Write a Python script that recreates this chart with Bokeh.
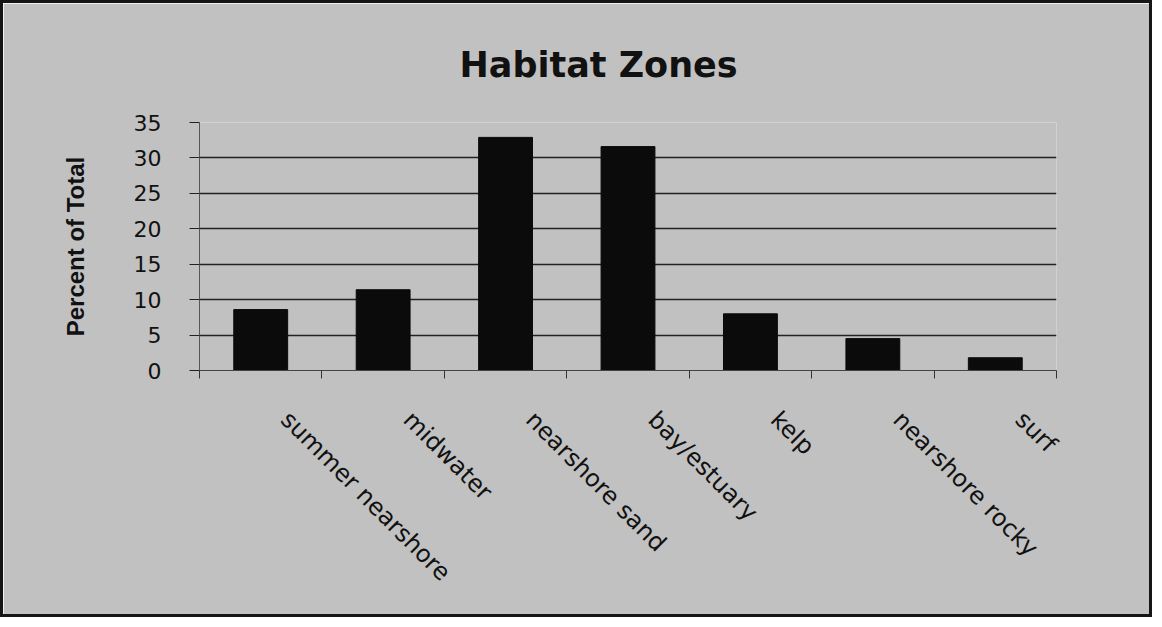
import math
from bokeh.plotting import figure
from bokeh.models import Range1d, FixedTicker, Title
from bokeh.embed import file_html
from bokeh.resources import INLINE

# ---- data ----
categories = ["summer nearshore", "midwater", "nearshore sand", "bay/estuary",
              "kelp", "nearshore rocky", "surf"]
percent = [8.6, 11.4, 32.9, 31.6, 8.0, 4.5, 1.8]
y_ticks = [0, 5, 10, 15, 20, 25, 30, 35]
grid_ticks = [5, 10, 15, 20, 25, 30]
title_text = "Habitat Zones"
y_label = "Percent of Total"

BG = "#c1c1c1"
FONT = "DejaVu Sans"

L, R, T, B = 196, 93, 119, 244
FW, FH = 857, 248

n = len(categories)
xs = [i + 0.5 for i in range(n)]
label_pos = [x + 0.2 for x in xs]

p = figure(width=L + FW + R, height=T + FH + B, output_backend="svg", toolbar_location=None,
           x_range=Range1d(0, n), y_range=Range1d(0, 35),
           min_border_left=L, min_border_right=R, min_border_top=T,
           min_border_bottom=B, frame_width=FW, frame_height=FH)

p.background_fill_color = BG
p.border_fill_color = BG
p.outline_line_color = None
p.styles = {"border": "3px solid #151515"}

p.vbar(x=xs, top=percent, width=0.44, fill_color="#0b0b0b", line_color="#0b0b0b")

# title
t = Title(text=title_text, align="left", offset=260, standoff=76,
          text_font=FONT, text_font_size="35px", text_font_style="bold",
          text_color="#111")
p.title = t

# x axis
xa = p.xaxis[0]
xa.ticker = FixedTicker(ticks=label_pos, minor_ticks=list(range(n + 1)))
xa.major_label_overrides = {x: c for x, c in zip(label_pos, categories)}
xa.major_label_orientation = -math.pi / 4
xa.major_tick_out = 0
xa.major_tick_in = 0
xa.minor_tick_out = 8
xa.minor_tick_in = 0
xa.minor_tick_line_color = "#333"
xa.axis_line_color = "#444"
xa.axis_line_width = 1.2
xa.major_label_text_font = FONT
xa.major_label_text_font_size = "24px"
xa.major_label_text_color = "#111"
xa.major_label_standoff = 37

# y axis
ya = p.yaxis[0]
ya.ticker = FixedTicker(ticks=y_ticks)
ya.minor_tick_line_color = None
ya.major_tick_out = 10
ya.major_tick_in = 0
ya.major_tick_line_color = "#222"
ya.axis_line_color = "#555"
ya.axis_line_width = 1
ya.major_label_text_font = FONT
ya.major_label_text_font_size = "22px"
ya.major_label_text_color = "#111"
ya.major_label_standoff = 28
ya.axis_label = y_label
ya.axis_label_text_font = "Liberation Sans"
ya.axis_label_text_font_size = "24px"
ya.axis_label_text_font_style = "bold"
ya.axis_label_text_color = "#111"
ya.axis_label_standoff = 42

p.xgrid.visible = False
p.ygrid.ticker = FixedTicker(ticks=grid_ticks)
p.ygrid.grid_line_color = "#222"
p.ygrid.grid_line_width = 1.3

open("out.html", "w").write(file_html(p, INLINE))
